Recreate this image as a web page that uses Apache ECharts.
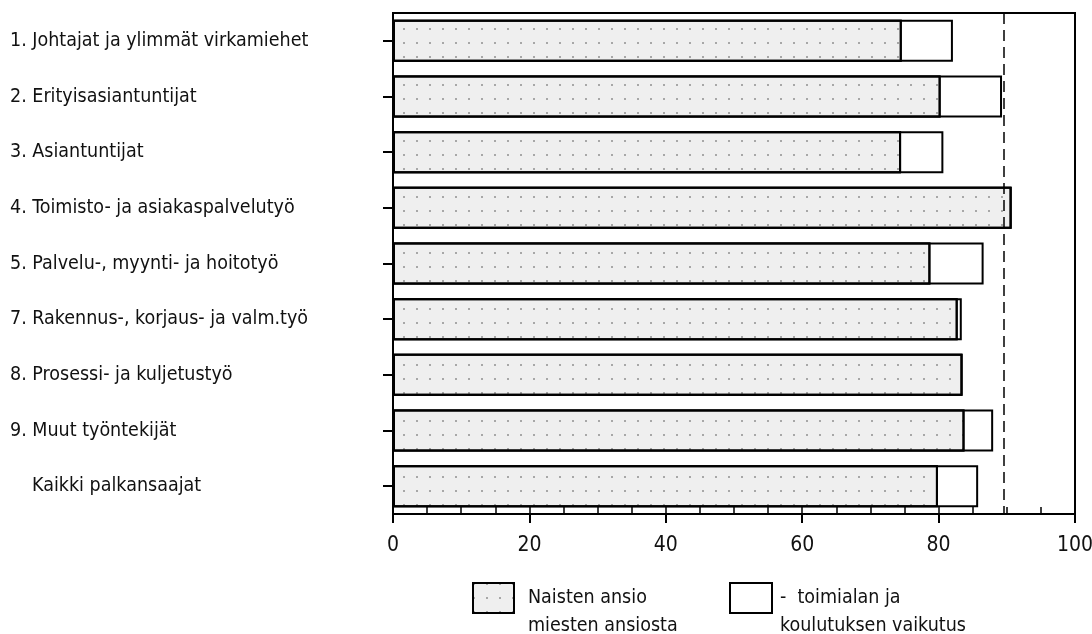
<!DOCTYPE html>
<html>
<head>
<meta charset="utf-8">
<script src="https://cdn.jsdelivr.net/npm/echarts@6/dist/echarts.min.js"></script>
<style>
html,body{margin:0;padding:0;background:#fff;}
#chart{width:1092px;height:634px;}
</style>
</head>
<body>
<div id="chart"></div>
<script>
const categories = [
  '1. Johtajat ja ylimmät virkamiehet',
  '2. Erityisasiantuntijat',
  '3. Asiantuntijat',
  '4. Toimisto- ja asiakaspalvelutyö',
  '5. Palvelu-, myynti- ja hoitotyö',
  '7. Rakennus-, korjaus- ja valm.työ',
  '8. Prosessi- ja kuljetustyö',
  '9. Muut työntekijät',
  'Kaikki palkansaajat'
];
// Naisten ansio miesten ansiosta (%)
const naistenAnsio = [74.6, 80.3, 74.5, 90.7, 78.8, 82.8, 83.5, 83.8, 79.9];
// Bar end including the effect of industry and education (%)
const vaikutuksenKanssa = [82.1, 89.3, 80.7, 90.7, 86.6, 83.4, 83.5, 88.0, 85.8];
const viitearvo = 89.6;
const xTicks = [0, 20, 40, 60, 80, 100];

const nameA = 'Naisten ansio miesten ansiosta';
const nameB = '- toimialan ja koulutuksen vaikutus';
const legendText = {};
legendText[nameA] = ' \nNaisten ansio\nmiesten ansiosta';
legendText[nameB] = ' \n-  toimialan ja\nkoulutuksen vaikutus';

const narrow = "'DejaVu Sans Condensed', 'Liberation Sans Narrow', 'Liberation Sans', sans-serif";

const shadeStyle = {
  color: '#efefef',
  borderColor: '#000',
  borderWidth: 2,
  decal: {
    symbol: 'rect',
    symbolSize: 1,
    color: 'rgba(0,0,0,0.3)',
    dashArrayX: [2, 11],
    dashArrayY: [2, 12]
  }
};

const chart = echarts.init(document.getElementById('chart'), null, {renderer: 'canvas'});
chart.setOption({
  animation: false,
  backgroundColor: '#fff',
  grid: {
    left: 393, right: 17, top: 13, bottom: 120,
    containLabel: false, outerBoundsMode: 'none',
    show: true, borderColor: '#000', borderWidth: 2, backgroundColor: 'transparent'
  },
  legend: [
    {
      data: [nameA], left: 472, top: 556, padding: 0,
      itemWidth: 41, itemHeight: 30, icon: 'rect',
      formatter: n => legendText[n],
      textStyle: {fontFamily: narrow, fontSize: 19.5, color: '#111', lineHeight: 28, padding: [0, 0, 0, 9]}
    },
    {
      data: [nameB], left: 729, top: 556, padding: 0,
      itemWidth: 42, itemHeight: 30, icon: 'rect',
      formatter: n => legendText[n],
      textStyle: {fontFamily: narrow, fontSize: 19.5, color: '#111', lineHeight: 28, padding: [0, 0, 0, 3]}
    }
  ],
  xAxis: [
    {
      type: 'value', min: 0, max: 100, interval: 20, position: 'bottom',
      axisLine: {show: true, lineStyle: {color: '#000', width: 2}},
      axisTick: {show: true, length: 9, lineStyle: {color: '#000', width: 2}},
      axisLabel: {
        fontFamily: narrow, fontSize: 21, color: '#111', margin: 21,
        formatter: v => xTicks.indexOf(v) >= 0 ? String(v) : ''
      },
      splitLine: {show: false}
    },
    {
      type: 'value', min: 0, max: 100, interval: 5, position: 'bottom',
      axisLine: {show: false},
      axisTick: {show: true, inside: true, length: 7, lineStyle: {color: '#000', width: 1.5}},
      axisLabel: {show: false},
      splitLine: {show: false}
    }
  ],
  yAxis: {
    type: 'category', inverse: true,
    data: categories,
    axisLine: {show: true, lineStyle: {color: '#000', width: 2}},
    axisTick: {show: true, alignWithLabel: true, length: 10, lineStyle: {color: '#000', width: 2}},
    axisLabel: {
      align: 'left', margin: 383, fontFamily: narrow, fontSize: 19.5, color: '#111',
      formatter: (v, i) => i === categories.length - 1 ? '{ind| }{t|' + v + '}' : '{t|' + v + '}',
      rich: {
        ind: {width: 22, fontFamily: narrow, fontSize: 19.5},
        t: {fontFamily: narrow, fontSize: 19.5, color: '#111'}
      }
    }
  },
  series: [
    {
      name: nameB, type: 'bar', barWidth: 42, barGap: '-100%',
      data: vaikutuksenKanssa,
      itemStyle: {color: '#fff', borderColor: '#000', borderWidth: 2},
      markLine: {
        silent: true, symbol: 'none', label: {show: false},
        lineStyle: {color: '#000', type: [11, 6], width: 1.5},
        data: [{xAxis: viitearvo}]
      }
    },
    {
      name: nameA, type: 'bar', barWidth: 42, barGap: '-100%',
      data: naistenAnsio,
      itemStyle: shadeStyle
    }
  ]
});
</script>
</body>
</html>
